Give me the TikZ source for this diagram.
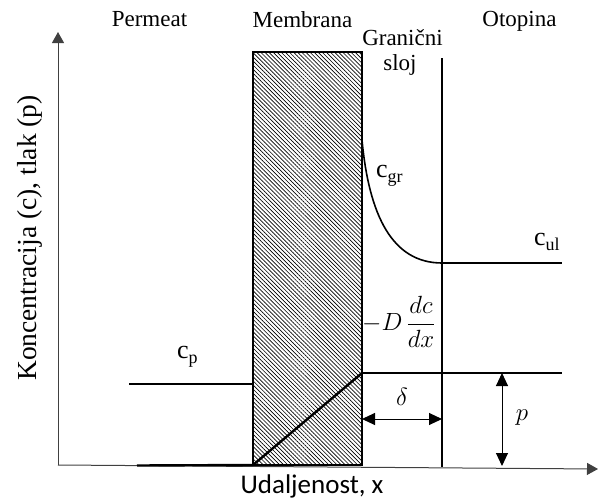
\documentclass[tikz,border=0pt]{standalone}
\usepackage{fontspec}
\usepackage{amsmath}
\setmainfont{Liberation Serif}
\newfontfamily\calib{Carlito}
\usetikzlibrary{patterns.meta,arrows.meta}
\newcommand\csubx[1]{c\raisebox{-0.22em}{\fontsize{18}{18}\selectfont #1}}
\begin{document}
\begin{tikzpicture}[x=1pt,y=-1pt,
  lbl/.style={font=\fontsize{23}{23}\selectfont, inner sep=0pt, anchor=base},
  clbl/.style={font=\fontsize{26}{26}\selectfont, inner sep=0pt, anchor=base west},
  axisline/.style={draw=black!75, line width=1pt},
  thickline/.style={line width=2.4pt},
  dimarrow/.style={line width=1pt, {Triangle[length=13pt,width=12pt]}-{Triangle[length=13pt,width=12pt]}},
]
\useasboundingbox (0,0) rectangle (598,501);

% coordinates
\coordinate (O) at (58,465);
\coordinate (Ytip) at (58,32);
\coordinate (Xtip) at (598,469);
\coordinate (ML) at (253,465);
\coordinate (MR) at (362,465);
\coordinate (MTL) at (253,52);
\coordinate (MTR) at (362,52);
\coordinate (B0) at (137,465.5);
\coordinate (CP0) at (129,384);
\coordinate (CP1) at (253,384);
\coordinate (D1) at (362,373);
\coordinate (H1) at (562,373);
\coordinate (V0) at (442,58);
\coordinate (V1) at (442,467);
\coordinate (G0) at (362,140);
\coordinate (G1) at (442,263);
\coordinate (U1) at (562,263);
\coordinate (dL) at (362,419);
\coordinate (dR) at (442,419);
\coordinate (pT) at (502,373);
\coordinate (pB) at (502,466);

% axes
\draw[axisline, -{Triangle[length=11pt,width=12pt]}] (O) -- (Ytip);
\draw[axisline, -{Triangle[length=11pt,width=12pt]}] (O) -- (Xtip);

% membrane
\draw[line width=2pt, pattern={Lines[angle=-45,distance=2.9pt,line width=0.65pt]}] (MTL) rectangle (MR);

% lines
\draw[thickline] (B0) -- (ML);
\draw[thickline] (CP0) -- (CP1);
\draw[thickline] (ML) -- (D1);
\draw[line width=2.6pt] (D1) -- (H1);
\draw[line width=2.6pt] (V0) -- (V1);
\draw[line width=1.6pt] (G0) .. controls (369,215) and (392,263) .. (G1);
\draw[line width=2pt] (G1) -- (U1);

% dimension arrows
\draw[dimarrow] (dL) -- (dR);
\draw[dimarrow] (pT) -- (pB);

% labels
\node[lbl] (perm) at (149.5,26) {Permeat};
\node[lbl] (memb) at (302.5,27) {Membrana};
\node[lbl] (gran) at (402.5,45) {Granični};
\node[lbl] (sloj) at (400,70) {sloj};
\node[lbl] (otop) at (519.5,26) {Otopina};
\node[font=\fontsize{27.5}{27.5}\selectfont, inner sep=0pt, anchor=base, rotate=90] (ylab) at (37,238) {Koncentracija (c), tlak (p)};
\node[font=\calib\fontsize{27}{27}\selectfont, inner sep=0pt, anchor=base] (xlab) at (312,493) {Udaljenost, x};

\node[clbl] (cgr) at (376,177) {\csubx{gr}};
\node[clbl] (cul) at (534,245) {\csubx{ul}};
\node[clbl] (cp) at (177,358) {\csubx{p}};

\node[font=\fontsize{23}{23}\selectfont, inner sep=0pt, anchor=west] (flux) at (362,322) {$-D\,\dfrac{dc}{dx}$};
\node[font=\fontsize{26}{26}\selectfont, inner sep=0pt] (delta) at (402,397) {$\delta$};
\node[font=\fontsize{28}{28}\selectfont, inner sep=0pt] (plab) at (522,418) {$p$};
\end{tikzpicture}
\end{document}
